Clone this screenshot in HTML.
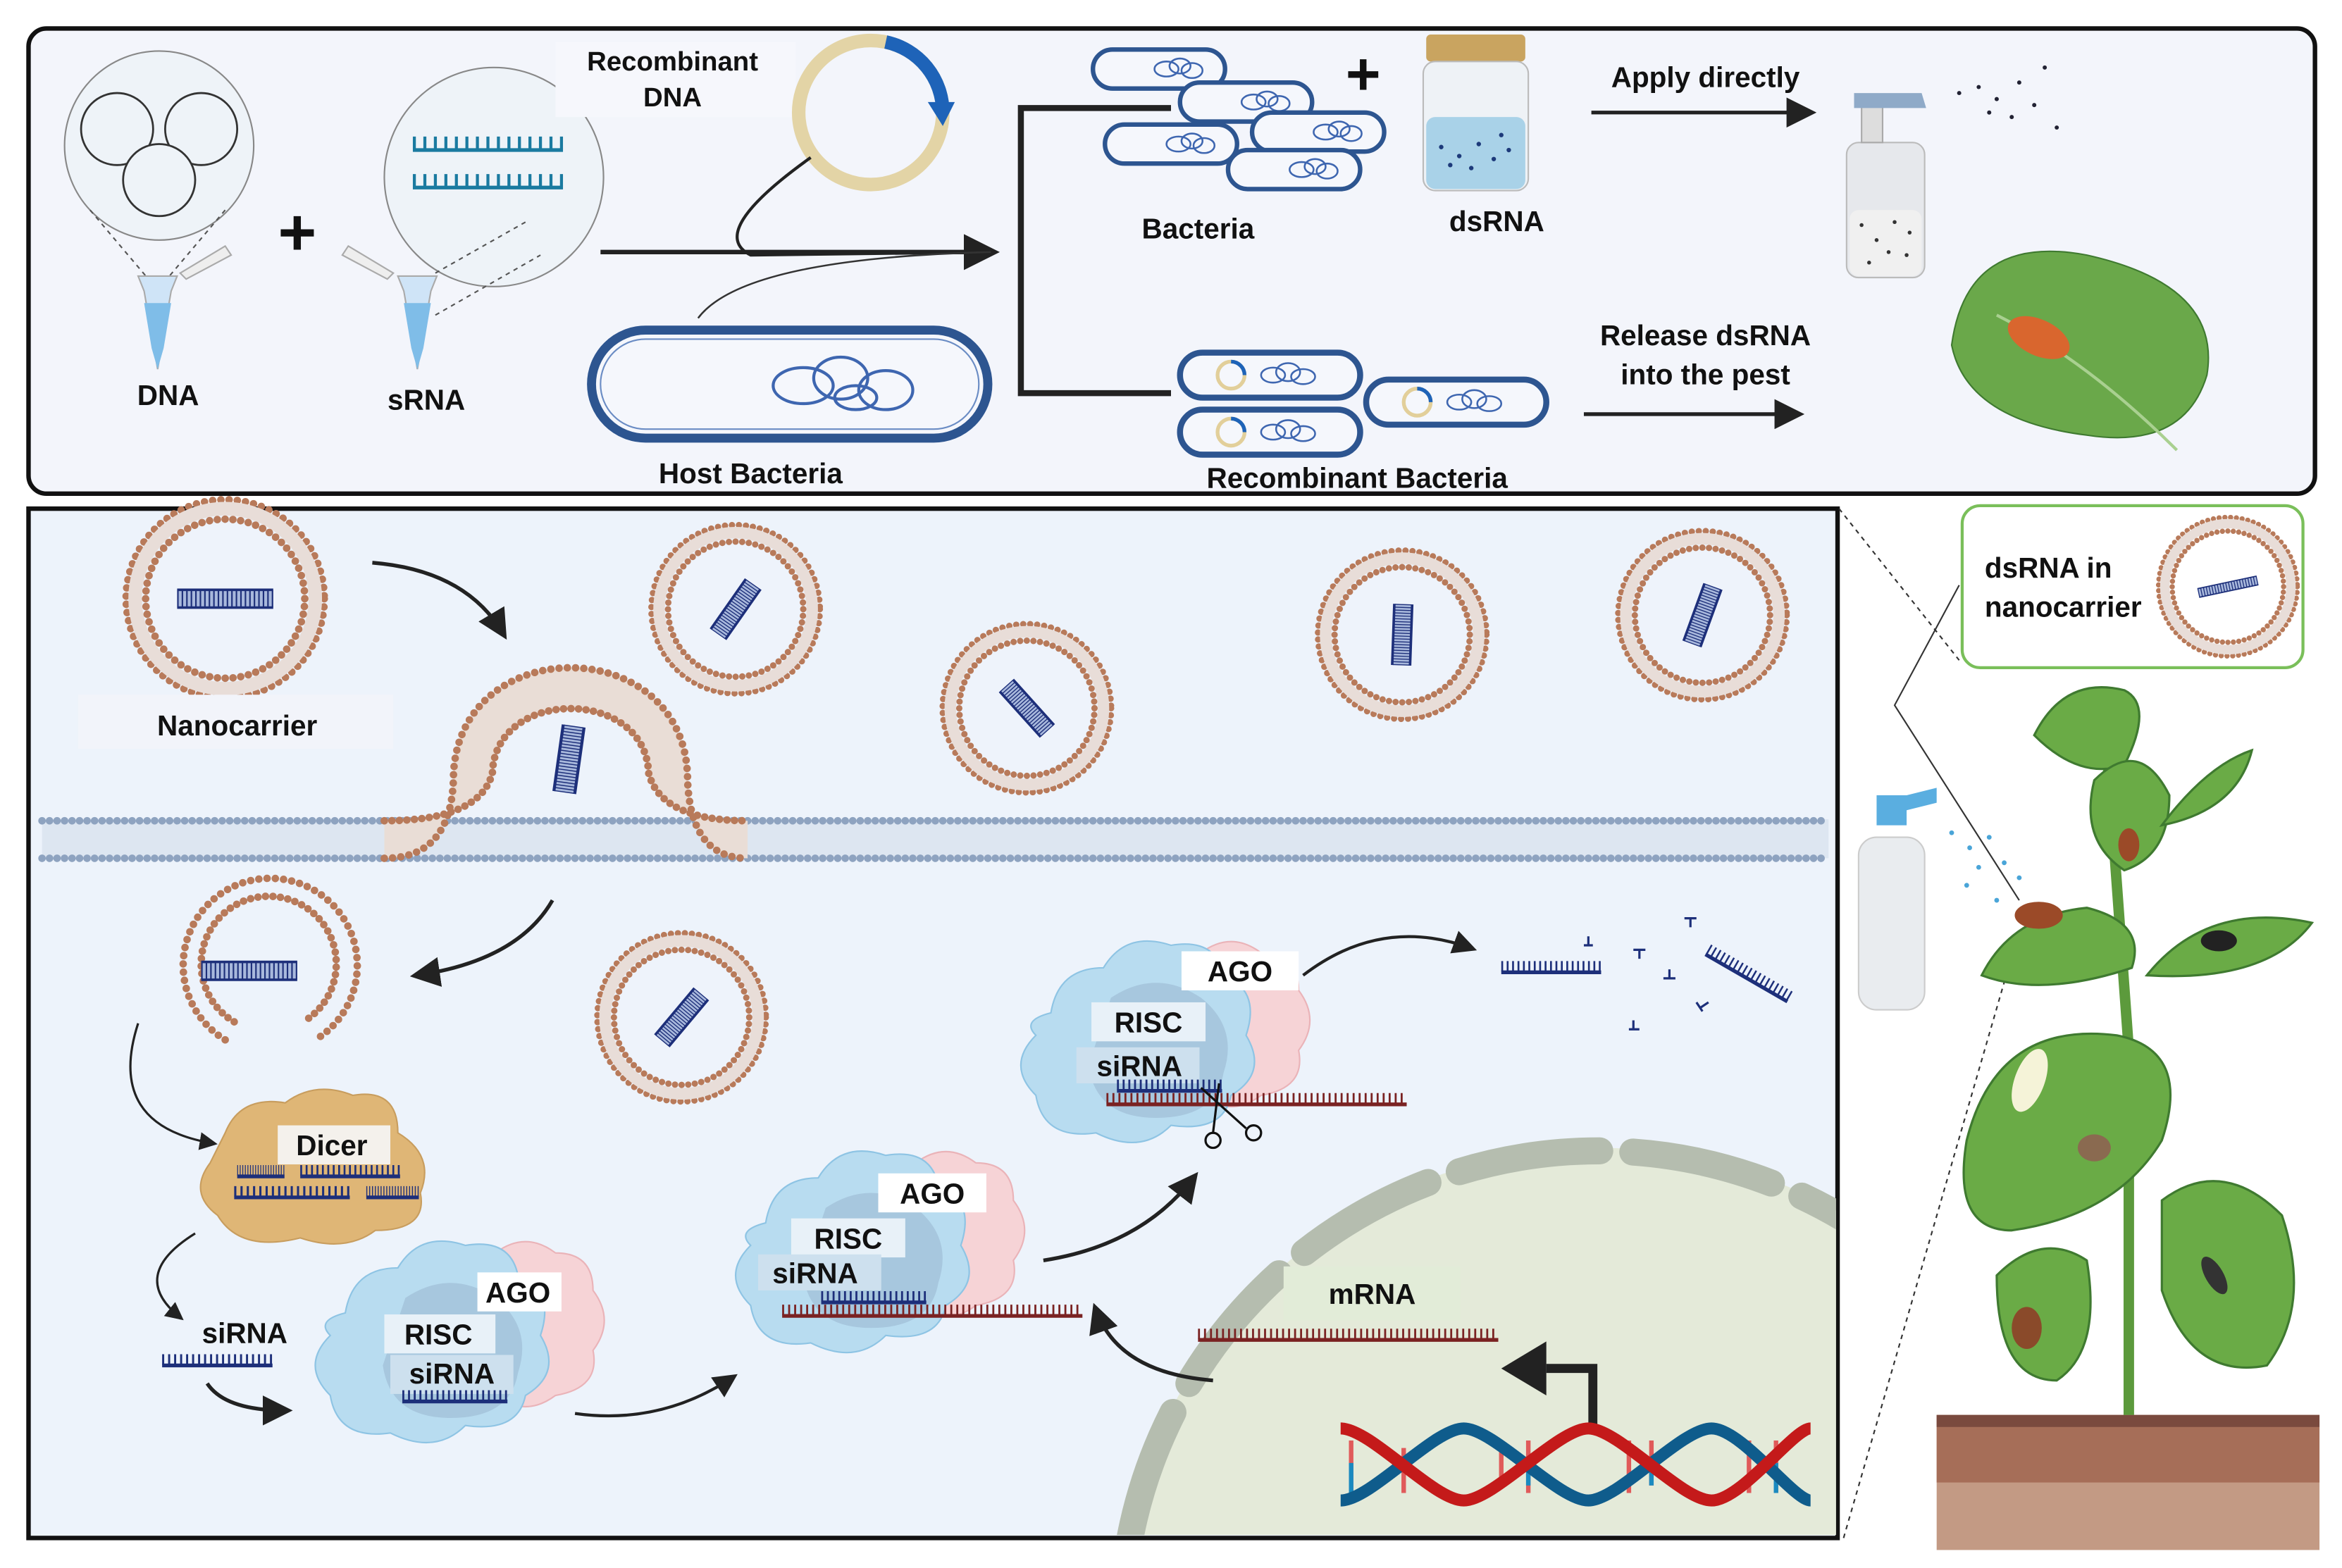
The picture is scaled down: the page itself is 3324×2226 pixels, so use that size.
<!DOCTYPE html>
<html><head><meta charset="utf-8"><style>
html,body{margin:0;padding:0;background:#fff;width:3324px;height:2226px;overflow:hidden;}
svg{display:block;}
text{font-family:"Liberation Sans",sans-serif;font-weight:bold;fill:#111;}
</style></head><body>
<svg width="3324" height="2226" viewBox="0 0 1560 1045" preserveAspectRatio="none" xmlns="http://www.w3.org/2000/svg">
<defs>
<marker id="ah" markerWidth="8" markerHeight="8" refX="6" refY="4" orient="auto" markerUnits="strokeWidth"><path d="M0,0 L8,4 L0,8 Z" fill="#222"/></marker>
<g id="nc">
 <circle r="66" fill="none" stroke="#b87a5a" stroke-width="5" stroke-dasharray="0 5.5" stroke-linecap="round"/>
 <circle r="60" fill="none" stroke="#e8ddd8" stroke-width="9"/>
 <circle r="53" fill="none" stroke="#b87a5a" stroke-width="5" stroke-dasharray="0 5.2" stroke-linecap="round"/>
 <circle r="50" fill="#eef3fb"/>
</g>
<g id="ds">
 <rect x="-32" y="-7" width="64" height="14" fill="#a8b8dc"/>
 <line x1="-32" y1="0" x2="32" y2="0" stroke="#1d2f7a" stroke-width="13" stroke-dasharray="1 2"/>
 <line x1="-32" y1="-7" x2="32" y2="-7" stroke="#1d2f7a" stroke-width="2"/>
 <line x1="-32" y1="7" x2="32" y2="7" stroke="#1d2f7a" stroke-width="2"/>
</g>
<g id="bac">
 <rect x="-44" y="-13" width="88" height="26" rx="13" fill="#f5f7fc" stroke="#2d5590" stroke-width="3"/>
 <g fill="none" stroke="#3e66b0" stroke-width="1.2"><ellipse cx="5" cy="0" rx="8" ry="5"/><ellipse cx="14" cy="-2" rx="7" ry="5"/><ellipse cx="22" cy="1" rx="7" ry="5"/></g>
</g>
<g id="rbac">
 <rect x="-60" y="-15" width="120" height="30" rx="15" fill="#f5f7fc" stroke="#2d5590" stroke-width="4"/>
 <circle cx="-26" cy="0" r="9" fill="none" stroke="#e2cf9a" stroke-width="2.5"/>
 <path d="M-26,-9 A9,9 0 0 1 -17,0" fill="none" stroke="#1e63b8" stroke-width="2.5"/>
 <g fill="none" stroke="#3e66b0" stroke-width="1.2"><ellipse cx="2" cy="0" rx="8" ry="5"/><ellipse cx="12" cy="-2" rx="8" ry="6"/><ellipse cx="22" cy="1" rx="8" ry="5"/></g>
</g>
<g id="rnaB"><line x1="0" y1="0" x2="70" y2="0" stroke="#1d2f7a" stroke-width="2.5"/><line x1="0" y1="-4" x2="70" y2="-4" stroke="#1d2f7a" stroke-width="7" stroke-dasharray="1.3 2.5"/></g>
<g id="rnaR"><line x1="0" y1="0" x2="200" y2="0" stroke="#7a2222" stroke-width="2.5"/><line x1="0" y1="-4" x2="200" y2="-4" stroke="#7a2222" stroke-width="7" stroke-dasharray="1.3 2.7"/></g>
<g id="risc">
 <path d="M40,-70 q20,-15 40,0 q25,0 25,25 q15,20 0,40 q5,25 -25,30 q-20,15 -40,0 z" fill="#f6d3d6" stroke="#eab3b8"/>
 <path d="M-60,-30 q5,-30 35,-30 q15,-25 45,-15 q30,-5 35,20 q25,10 15,40 q15,25 -10,40 q-5,25 -40,20 q-20,20 -50,5 q-35,5 -40,-25 q-20,-20 0,-40 q-10,-10 10,-15z" fill="#b8dcf0" stroke="#8ec4e4"/>
 <path d="M-20,-40 q30,-20 60,0 q25,20 15,50 q-5,30 -45,30 q-40,0 -45,-35z" fill="#9fbdd6" opacity=".7"/>
</g>
<clipPath id="cb"><rect x="20" y="340" width="1203" height="683"/></clipPath>
</defs>

<rect width="1560" height="1045" fill="#fff"/>
<!-- TOP PANEL -->
<rect x="19" y="19" width="1523" height="310" rx="12" fill="#f3f5fb" stroke="#111" stroke-width="3"/>
<circle cx="106" cy="97" r="63" fill="#eef3f8" stroke="#888" stroke-width="1"/>
<circle cx="78" cy="86" r="24" fill="#eef3f8" stroke="#333" stroke-width="1.3"/>
<circle cx="134" cy="86" r="24" fill="#eef3f8" stroke="#333" stroke-width="1.3"/>
<circle cx="106" cy="120" r="24" fill="#eef3f8" stroke="#333" stroke-width="1.3"/>
<line x1="60" y1="140" x2="98" y2="185" stroke="#555" stroke-dasharray="3 3"/><line x1="150" y1="140" x2="112" y2="185" stroke="#555" stroke-dasharray="3 3"/>
<path d="M92,184 h26 l-4,10 l-9,52 l-9,-52 z" fill="#cfe4f7" stroke="#aaa"/>
<path d="M96,202 h18 l-5,30 l-4,14 l-4,-14z" fill="#7fbde8"/>
<path d="M120,182 l30,-18 l4,6 l-30,16z" fill="#eee" stroke="#aaa"/>
<text x="112" y="270" font-size="19" text-anchor="middle">DNA</text>
<text x="198" y="170" font-size="44" text-anchor="middle">+</text>
<circle cx="329" cy="118" r="73" fill="#eef3f8" stroke="#888"/>
<line x1="275" y1="100" x2="375" y2="100" stroke="#1a7aa0" stroke-width="2.5"/><line x1="275" y1="95" x2="375" y2="95" stroke="#1a7aa0" stroke-width="8" stroke-dasharray="2 5"/>
<line x1="275" y1="125" x2="375" y2="125" stroke="#1a7aa0" stroke-width="2.5"/><line x1="275" y1="120" x2="375" y2="120" stroke="#1a7aa0" stroke-width="8" stroke-dasharray="2 5"/>
<line x1="290" y1="182" x2="350" y2="148" stroke="#555" stroke-dasharray="3 3"/><line x1="290" y1="210" x2="360" y2="170" stroke="#555" stroke-dasharray="3 3"/>
<path d="M265,184 h26 l-4,10 l-9,52 l-9,-52 z" fill="#cfe4f7" stroke="#aaa"/>
<path d="M269,202 h18 l-5,30 l-4,14 l-4,-14z" fill="#7fbde8"/>
<path d="M262,182 l-30,-18 l-4,6 l30,16z" fill="#eee" stroke="#aaa"/>
<text x="284" y="273" font-size="19" text-anchor="middle">sRNA</text>
<rect x="370" y="28" width="160" height="50" fill="#f6f7fc"/>
<text x="448" y="47" font-size="18" text-anchor="middle">Recombinant</text>
<text x="448" y="71" font-size="18" text-anchor="middle">DNA</text>
<circle cx="580" cy="75" r="48" fill="none" stroke="#e3d4a6" stroke-width="9"/>
<path d="M590,28 A48,48 0 0 1 628,75" fill="none" stroke="#1e63b8" stroke-width="9"/>
<path d="M618,68 l18,0 l-8,16z" fill="#1e63b8"/>
<path d="M540,105 q-70,50 -40,65 L660,168" fill="none" stroke="#222" stroke-width="2"/>
<path d="M400,168 L660,168" stroke="#222" stroke-width="3" marker-end="url(#ah)"/>
<path d="M465,212 q30,-40 195,-44" fill="none" stroke="#333" stroke-width="1.2"/>
<rect x="394" y="220" width="264" height="72" rx="36" fill="#f5f7fc" stroke="#2d5590" stroke-width="6"/>
<rect x="400" y="226" width="252" height="60" rx="30" fill="none" stroke="#6a8cc4" stroke-width="1"/>
<g fill="none" stroke="#3e66b0" stroke-width="2"><ellipse cx="535" cy="257" rx="20" ry="12"/><ellipse cx="560" cy="252" rx="18" ry="14"/><ellipse cx="590" cy="260" rx="18" ry="13"/><ellipse cx="570" cy="265" rx="14" ry="8"/></g>
<text x="500" y="322" font-size="19" text-anchor="middle">Host Bacteria</text>
<path d="M780,72 H680 V262 H780" fill="none" stroke="#222" stroke-width="4"/>
<use href="#bac" x="772" y="46"/><use href="#bac" x="830" y="68"/><use href="#bac" x="780" y="96"/><use href="#bac" x="878" y="88"/><use href="#bac" x="862" y="113"/>
<text x="908" y="63" font-size="40" text-anchor="middle">+</text>
<text x="798" y="159" font-size="19" text-anchor="middle">Bacteria</text>
<rect x="950" y="23" width="66" height="18" rx="3" fill="#c9a460"/>
<rect x="948" y="41" width="70" height="86" rx="8" fill="#eef2f6" stroke="#bbb"/>
<rect x="950" y="78" width="66" height="48" rx="6" fill="#a9d2e8"/>
<g fill="#1d3a7a"><circle cx="960" cy="98" r="1.5"/><circle cx="972" cy="104" r="1.5"/><circle cx="985" cy="96" r="1.5"/><circle cx="995" cy="106" r="1.5"/><circle cx="1005" cy="100" r="1.5"/><circle cx="966" cy="110" r="1.5"/><circle cx="980" cy="112" r="1.5"/><circle cx="1000" cy="90" r="1.5"/></g>
<text x="997" y="154" font-size="19" text-anchor="middle">dsRNA</text>
<text x="1136" y="58" font-size="19" text-anchor="middle">Apply directly</text>
<path d="M1060,75 L1205,75" stroke="#222" stroke-width="2.5" marker-end="url(#ah)"/>
<rect x="1230" y="95" width="52" height="90" rx="8" fill="#e6e8ec" stroke="#bbb"/>
<rect x="1232" y="140" width="48" height="44" rx="6" fill="#f0f0f0"/>
<path d="M1240,95 v-25 h14 v25z" fill="#ddd" stroke="#aaa"/><path d="M1235,62 h45 l3,10 h-48z" fill="#8faac8"/>
<g fill="#333"><circle cx="1240" cy="150" r="1.3"/><circle cx="1250" cy="160" r="1.3"/><circle cx="1262" cy="148" r="1.3"/><circle cx="1270" cy="170" r="1.3"/><circle cx="1245" cy="175" r="1.3"/><circle cx="1258" cy="168" r="1.3"/><circle cx="1272" cy="155" r="1.3"/></g>
<g fill="#223"><circle cx="1305" cy="62" r="1.4"/><circle cx="1318" cy="58" r="1.4"/><circle cx="1330" cy="66" r="1.4"/><circle cx="1345" cy="55" r="1.4"/><circle cx="1355" cy="70" r="1.4"/><circle cx="1340" cy="78" r="1.4"/><circle cx="1362" cy="45" r="1.4"/><circle cx="1370" cy="85" r="1.4"/><circle cx="1325" cy="75" r="1.4"/></g>
<path d="M1300,230 q10,-75 90,-60 q90,20 80,80 q-15,50 -80,40 q-80,-10 -90,-60z" fill="#6aa84a" stroke="#3f7a30"/>
<path d="M1330,210 q60,30 120,90" fill="none" stroke="#a9d090" stroke-width="2"/>
<ellipse cx="1358" cy="225" rx="22" ry="12" fill="#d9662e" transform="rotate(25 1358 225)"/>
<text x="1136" y="230" font-size="19" text-anchor="middle">Release dsRNA</text>
<text x="1136" y="256" font-size="19" text-anchor="middle">into the pest</text>
<path d="M1055,276 L1197,276" stroke="#222" stroke-width="2.5" marker-end="url(#ah)"/>
<use href="#rbac" x="846" y="250"/><use href="#rbac" x="846" y="288"/><use href="#rbac" x="970" y="268"/>
<text x="904" y="325" font-size="19" text-anchor="middle">Recombinant Bacteria</text>

<!-- BOTTOM PANEL -->
<rect x="19" y="339" width="1205" height="686" fill="#edf3fb" stroke="#111" stroke-width="3"/>
<g clip-path="url(#cb)">
<circle cx="1065" cy="1085" r="320" fill="#e4ead9"/>
<circle cx="1065" cy="1085" r="318" fill="none" stroke="#b5bdaf" stroke-width="18" stroke-dasharray="95 22" stroke-linecap="round"/>
</g>
<!-- membrane -->
<rect x="28" y="546" width="1190" height="26" fill="#dde6f1"/>
<line x1="28" y1="547" x2="1218" y2="547" stroke="#8ea3c0" stroke-width="5" stroke-dasharray="0 5" stroke-linecap="round"/>
<line x1="28" y1="572" x2="1218" y2="572" stroke="#8ea3c0" stroke-width="5" stroke-dasharray="0 5" stroke-linecap="round"/>
<!-- endocytosis (omega) -->
<path d="M256,572 Q300,572 302,520 C302,420 458,420 458,520 Q460,572 498,572 L498,547 Q440,547 432,515 C430,458 330,458 328,515 Q320,547 256,547 Z" fill="#e9ddd6"/>
<path d="M256,572 Q300,572 302,520 C302,420 458,420 458,520 Q460,572 498,572" fill="none" stroke="#b87a5a" stroke-width="5" stroke-dasharray="0 5.5" stroke-linecap="round"/>
<path d="M256,547 Q320,547 328,515 C330,458 430,458 432,515 Q440,547 498,547" fill="none" stroke="#b87a5a" stroke-width="5" stroke-dasharray="0 5" stroke-linecap="round"/>
<use href="#ds" transform="translate(379,506) rotate(98) scale(.7,1)"/>
<!-- nanocarriers -->
<use href="#nc" x="150" y="399"/><use href="#ds" transform="translate(150,399) scale(1,.85)"/>
<rect x="52" y="463" width="210" height="36" fill="#f2f4fa"/>
<text x="158" y="490" font-size="19" text-anchor="middle">Nanocarrier</text>
<path d="M248,375 Q310,380 335,422" fill="none" stroke="#222" stroke-width="2.5" marker-end="url(#ah)"/>
<g transform="translate(490,406) scale(.85)"><use href="#nc"/><use href="#ds" transform="rotate(-55) scale(.75,1)"/></g>
<g transform="translate(684,472) scale(.85)"><use href="#nc"/><use href="#ds" transform="rotate(48) scale(.75,1)"/></g>
<g transform="translate(934,423) scale(.85)"><use href="#nc"/><use href="#ds" transform="rotate(92) scale(.75,1)"/></g>
<g transform="translate(1134,410) scale(.85)"><use href="#nc"/><use href="#ds" transform="rotate(-70) scale(.75,1)"/></g>
<g transform="translate(454,678) scale(.85)"><use href="#nc"/><use href="#ds" transform="rotate(-50) scale(.75,1)"/></g>
<!-- opened carrier -->
<g transform="translate(174,647)"><path d="M-24,46 A58,58 0 1 1 36,46" fill="none" stroke="#b87a5a" stroke-width="5" stroke-dasharray="0 5.5" stroke-linecap="round"/><path d="M-18,34 A45,45 0 1 1 28,34" fill="none" stroke="#b87a5a" stroke-width="5" stroke-dasharray="0 5" stroke-linecap="round"/><use href="#ds" transform="translate(-8,0) scale(1,.85)"/></g>
<path d="M368,600 Q345,640 278,650" fill="none" stroke="#222" stroke-width="2.5" marker-end="url(#ah)"/>
<path d="M92,682 Q70,750 142,762" fill="none" stroke="#222" stroke-width="1.5" marker-end="url(#ah)"/>
<!-- Dicer -->
<path d="M150,755 q10,-25 40,-20 q20,-15 45,-5 q30,-5 30,25 q25,15 15,40 q5,25 -30,25 q-20,15 -50,5 q-40,10 -55,-15 q-20,-15 -5,-35z" fill="#dfb676" stroke="#c89d5e"/>
<rect x="185" y="750" width="75" height="26" fill="#f4f1ec"/>
<text x="221" y="770" font-size="19" text-anchor="middle">Dicer</text>
<use href="#rnaB" transform="translate(158,784) scale(.45,1)"/><use href="#rnaB" transform="translate(200,784) scale(.95,1)"/>
<use href="#rnaB" transform="translate(156,798) scale(1.1,1)"/><use href="#rnaB" transform="translate(244,798) scale(.5,1)"/>
<path d="M130,822 Q85,850 120,878" fill="none" stroke="#222" stroke-width="1.5" marker-end="url(#ah)"/>
<text x="163" y="895" font-size="19" text-anchor="middle">siRNA</text>
<use href="#rnaB" transform="translate(108,910) scale(1.05,1)"/>
<path d="M138,922 Q150,940 190,940" fill="none" stroke="#222" stroke-width="2.5" marker-end="url(#ah)"/>
<!-- RISC 1 -->
<use href="#risc" transform="translate(290,905)"/>
<rect x="318" y="848" width="56" height="26" fill="#fff"/><text x="345" y="868" font-size="19" text-anchor="middle">AGO</text>
<rect x="256" y="876" width="74" height="26" fill="#e8f1f8"/><text x="292" y="896" font-size="19" text-anchor="middle">RISC</text>
<rect x="260" y="903" width="82" height="26" fill="#cde0ee"/><text x="301" y="922" font-size="19" text-anchor="middle">siRNA</text>
<use href="#rnaB" x="268" y="934"/>
<path d="M383,942 Q440,950 488,918" fill="none" stroke="#222" stroke-width="2" marker-end="url(#ah)"/>
<!-- RISC 2 -->
<use href="#risc" transform="translate(570,845)"/>
<rect x="585" y="782" width="72" height="26" fill="#fff"/><text x="621" y="802" font-size="19" text-anchor="middle">AGO</text>
<rect x="527" y="812" width="76" height="26" fill="#e8f1f8"/><text x="565" y="832" font-size="19" text-anchor="middle">RISC</text>
<rect x="505" y="836" width="82" height="24" fill="#cde0ee"/><text x="543" y="855" font-size="19" text-anchor="middle">siRNA</text>
<use href="#rnaB" x="547" y="868"/>
<use href="#rnaR" transform="translate(521,877)"/>
<path d="M695,840 Q760,830 795,785" fill="none" stroke="#222" stroke-width="2.5" marker-end="url(#ah)"/>
<path d="M808,920 Q745,915 730,873" fill="none" stroke="#222" stroke-width="2.5" marker-end="url(#ah)"/>
<!-- RISC 3 -->
<use href="#risc" transform="translate(760,705)"/>
<rect x="787" y="634" width="78" height="26" fill="#fff"/><text x="826" y="654" font-size="19" text-anchor="middle">AGO</text>
<rect x="727" y="668" width="76" height="26" fill="#e8f1f8"/><text x="765" y="688" font-size="19" text-anchor="middle">RISC</text>
<rect x="717" y="698" width="82" height="24" fill="#cde0ee"/><text x="759" y="717" font-size="19" text-anchor="middle">siRNA</text>
<use href="#rnaB" x="744" y="727"/>
<use href="#rnaR" transform="translate(737,736)"/>
<g stroke="#111" stroke-width="1.5" fill="none"><line x1="800" y1="725" x2="830" y2="752"/><line x1="812" y1="722" x2="808" y2="755"/><circle cx="808" cy="760" r="5"/><circle cx="835" cy="755" r="5"/></g>
<path d="M868,650 Q920,610 980,632" fill="none" stroke="#222" stroke-width="2" marker-end="url(#ah)"/>
<use href="#rnaB" transform="translate(1000,648) scale(.95,1)"/>
<use href="#rnaB" transform="translate(1136,636) rotate(30) scale(.9,1)"/>
<g stroke="#1d2f7a" stroke-width="1.5"><path d="M1058,630 v-6 M1055,630 h6"/><path d="M1092,633 v6 M1088,633 h8"/><path d="M1112,652 v-6 M1108,652 h8"/><path d="M1126,612 v6 M1122,612 h8"/><path d="M1088,686 v-6 M1085,686 h7"/><path d="M1132,672 l6,-4 M1130,668 l4,6"/></g>
<!-- nucleus content -->
<rect x="855" y="844" width="118" height="36" fill="#e2ecd8"/>
<text x="914" y="869" font-size="19" text-anchor="middle">mRNA</text>
<use href="#rnaR" transform="translate(798,893)"/>
<path d="M1061,952 V912 H1030" fill="none" stroke="#222" stroke-width="6"/>
<path d="M1000,912 l30,-18 v36z" fill="#222"/>
<!-- DNA helix -->
<g stroke-width="3">
<g stroke="#e05a5a"><line x1="900" y1="960" x2="900" y2="995"/><line x1="935" y1="965" x2="935" y2="995"/><line x1="1000" y1="960" x2="1000" y2="985"/><line x1="1018" y1="960" x2="1018" y2="995"/><line x1="1085" y1="960" x2="1085" y2="995"/><line x1="1100" y1="960" x2="1100" y2="990"/><line x1="1165" y1="960" x2="1165" y2="995"/><line x1="1183" y1="960" x2="1183" y2="995"/></g>
<g stroke="#1a8ac0"><line x1="900" y1="975" x2="900" y2="995"/><line x1="1018" y1="975" x2="1018" y2="990"/><line x1="1100" y1="975" x2="1100" y2="990"/><line x1="1183" y1="975" x2="1183" y2="995"/></g>
</g>
<path d="M893,1000 C913,1000 955,952 975,952 S1038,1000 1058,1000 S1120,952 1140,952 S1195,1000 1206,1000" fill="none" stroke="#0f5c8c" stroke-width="8"/>
<path d="M893,952 C913,952 955,1000 975,1000 S1038,952 1058,952 S1120,1000 1140,1000 S1195,952 1206,952" fill="none" stroke="#c41a1a" stroke-width="8"/>

<!-- RIGHT: plant -->
<line x1="1225" y1="339" x2="1305" y2="440" stroke="#333" stroke-dasharray="3 3"/>
<line x1="1228" y1="1025" x2="1345" y2="620" stroke="#333" stroke-dasharray="3 3"/>
<path d="M1305,390 L1262,470 L1345,600" fill="none" stroke="#333" stroke-width="1"/>
<rect x="1307" y="337" width="227" height="108" rx="12" fill="#fff" stroke="#7abf5a" stroke-width="2"/>
<text x="1322" y="385" font-size="19">dsRNA in</text>
<text x="1322" y="411" font-size="19">nanocarrier</text>
<g transform="translate(1484,391) scale(.7)"><use href="#nc"/><circle r="50" fill="#fff"/><use href="#ds" transform="rotate(-12) scale(.9,.6)"/></g>
<rect x="1290" y="943" width="255" height="90" fill="#c39a84"/>
<rect x="1290" y="943" width="255" height="45" fill="#a66e58"/>
<rect x="1290" y="943" width="255" height="8" fill="#7a4a3e"/>
<path d="M1418,943 V700 L1405,520 L1400,470" fill="none" stroke="#5c9a3c" stroke-width="7"/>
<g fill="#6aab46" stroke="#3f7a30" stroke-width="1.5">
<path d="M1355,490 q20,-40 60,-30 q20,10 0,50 q-30,10 -60,-20z"/>
<path d="M1395,520 q30,-30 50,10 q0,40 -30,50 q-30,-20 -20,-60z"/>
<path d="M1440,550 q30,-40 60,-50 q-10,40 -60,50z"/>
<path d="M1320,650 q20,-40 70,-45 q40,10 30,40 q-60,20 -100,5z"/>
<path d="M1430,650 q40,-50 110,-35 q-30,40 -110,35z"/>
<path d="M1310,760 q20,-80 100,-70 q50,10 30,70 q-30,50 -100,60 q-40,0 -30,-60z"/>
<path d="M1440,800 q40,-30 80,10 q20,60 -10,100 q-50,10 -70,-50z"/>
<path d="M1330,850 q30,-30 60,-10 q10,60 -20,80 q-40,0 -40,-70z"/>
</g>
<path d="M1250,530 h20 l20,-5 v10 l-20,5 v10 h-20z" fill="#5aaee0"/>
<rect x="1238" y="558" width="44" height="115" rx="12" fill="#e9ecef" stroke="#ccc"/>
<g fill="#4aa5d8"><circle cx="1300" cy="555" r="1.6"/><circle cx="1312" cy="565" r="1.6"/><circle cx="1325" cy="558" r="1.6"/><circle cx="1318" cy="578" r="1.6"/><circle cx="1335" cy="575" r="1.6"/><circle cx="1310" cy="590" r="1.6"/><circle cx="1330" cy="600" r="1.6"/><circle cx="1345" cy="585" r="1.6"/></g>
<ellipse cx="1358" cy="610" rx="16" ry="9" fill="#9b4a28"/>
<ellipse cx="1418" cy="563" rx="7" ry="11" fill="#9b4a28"/>
<ellipse cx="1478" cy="627" rx="12" ry="7" fill="#222"/>
<ellipse cx="1352" cy="720" rx="10" ry="22" fill="#f5f3d8" transform="rotate(20 1352 720)"/>
<ellipse cx="1395" cy="765" rx="11" ry="9" fill="#8a6a50"/>
<ellipse cx="1350" cy="885" rx="10" ry="14" fill="#8a4a2a"/>
<ellipse cx="1475" cy="850" rx="6" ry="14" fill="#333" transform="rotate(-30 1475 850)"/>
</svg>
</body></html>
